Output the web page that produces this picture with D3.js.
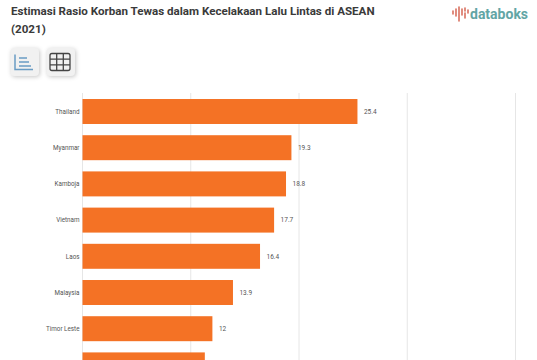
<!doctype html>
<html lang="en">
<head>
<meta charset="utf-8">
<title>Estimasi Rasio Korban Tewas</title>
<script src="https://cdn.jsdelivr.net/npm/d3@7"></script>
<style>
    html, body { margin: 0; padding: 0; background: #fff; overflow: hidden; }
    svg { display: block; font-family: Roboto, sans-serif; }
</style>
</head>
<body>
<svg id="chart"></svg>
<script>
    const countries = ["Thailand", "Myanmar", "Kamboja", "Vietnam", "Laos", "Malaysia", "Timor Leste", ""];
    const values = [25.4, 19.3, 18.8, 17.7, 16.4, 13.9, 12, 11.3];
    const valueLabels = ["25.4", "19.3", "18.8", "17.7", "16.4", "13.9", "12", ""];
    const gridTicks = [0, 10, 20, 30, 40];
    const titleLines = ["Estimasi Rasio Korban Tewas dalam Kecelakaan Lalu Lintas di ASEAN", "(2021)"];

    const wtot = 537, htot = 360;
    const svg = d3.select("#chart").attr("width", wtot).attr("height", htot);

    // title
    svg.selectAll(".title")
        .data(titleLines)
        .enter()
        .append("text")
        .attr("class", "title")
        .attr("x", 11)
        .attr("y", (d, i) => 15 + i * 18)
        .attr("font-size", 11.6)
        .attr("font-weight", 700)
        .attr("fill", "#3a3a3a")
        .text(d => d);

    // databoks logo
    const logo = svg.append("g").attr("transform", "translate(453,7)");
    const logoBars = [[0, 4, 3], [3, 2, 7], [6, 0, 14], [9, 2, 6], [12, 1, 3], [12, 6, 5], [15, 3, 3]];
    logo.selectAll("line")
        .data(logoBars)
        .enter()
        .append("line")
        .attr("x1", d => d[0]).attr("x2", d => d[0])
        .attr("y1", d => d[1]).attr("y2", d => d[1] + d[2])
        .attr("stroke", "#d9705f")
        .attr("stroke-linecap", "round")
        .attr("stroke-width", 1.6);
    svg.append("text")
        .attr("x", 470)
        .attr("y", 19)
        .attr("font-size", 14)
        .attr("font-weight", 700)
        .attr("fill", "#62a5a5")
        .text("databoks");

    // the two view buttons
    svg.selectAll(".btn")
        .data([10.5, 46.5])
        .enter()
        .append("rect")
        .attr("class", "btn")
        .attr("x", d => d)
        .attr("y", 48)
        .attr("width", 28.5)
        .attr("height", 28)
        .attr("rx", 4)
        .attr("fill", "#f1f1f1")
        .style("filter", "drop-shadow(1px 1px 2px rgba(0,0,0,.22))");

    const listIcon = svg.append("g")
        .attr("fill", "none")
        .attr("stroke", "#6a9cc4")
        .attr("stroke-width", 1.5);
    listIcon.append("path").attr("d", "M15 54.5V69.5H33");
    listIcon.append("path").attr("d", "M19 58H27M19 62H29M19 66H31");

    const gridIcon = svg.append("g")
        .attr("fill", "none")
        .attr("stroke", "#444")
        .attr("stroke-width", 1.3);
    gridIcon.append("rect").attr("x", 50).attr("y", 53.5).attr("width", 20).attr("height", 17).attr("rx", 2);
    gridIcon.append("path").attr("d", "M56.7 53.5V70.5M63.3 53.5V70.5M50 59.2H70M50 64.8H70");

    // scales
    const x = d3.scaleLinear().domain([0, 40]).range([82.5, 515.5]);
    const y = d3.scaleBand()
        .domain(d3.range(values.length))
        .range([93.4, 383])
        .paddingInner(0.31)
        .paddingOuter(0.155);

    // gridlines
    svg.selectAll(".grid")
        .data(gridTicks)
        .enter()
        .append("line")
        .attr("class", "grid")
        .attr("x1", d => x(d)).attr("x2", d => x(d))
        .attr("y1", 93).attr("y2", htot)
        .attr("stroke", "#e6e6e6")
        .attr("stroke-width", 1);

    // bars
    svg.selectAll(".bar")
        .data(values)
        .enter()
        .append("rect")
        .attr("class", "bar")
        .attr("x", x(0))
        .attr("y", (d, i) => y(i))
        .attr("width", d => x(d) - x(0))
        .attr("height", y.bandwidth())
        .attr("fill", "#f47225");

    // country labels
    svg.selectAll(".name")
        .data(countries)
        .enter()
        .append("text")
        .attr("class", "name")
        .attr("x", 79.5)
        .attr("y", (d, i) => y(i) + y.bandwidth() / 2)
        .attr("dy", "0.35em")
        .attr("text-anchor", "end")
        .attr("font-size", 6.3)
        .attr("fill", "#555")
        .text(d => d);

    // value labels
    svg.selectAll(".val")
        .data(values)
        .enter()
        .append("text")
        .attr("class", "val")
        .attr("x", d => x(d) + 6.5)
        .attr("y", (d, i) => y(i) + y.bandwidth() / 2)
        .attr("dy", "0.35em")
        .attr("font-size", 6.5)
        .attr("fill", "#555")
        .text((d, i) => valueLabels[i]);
</script>
</body>
</html>
